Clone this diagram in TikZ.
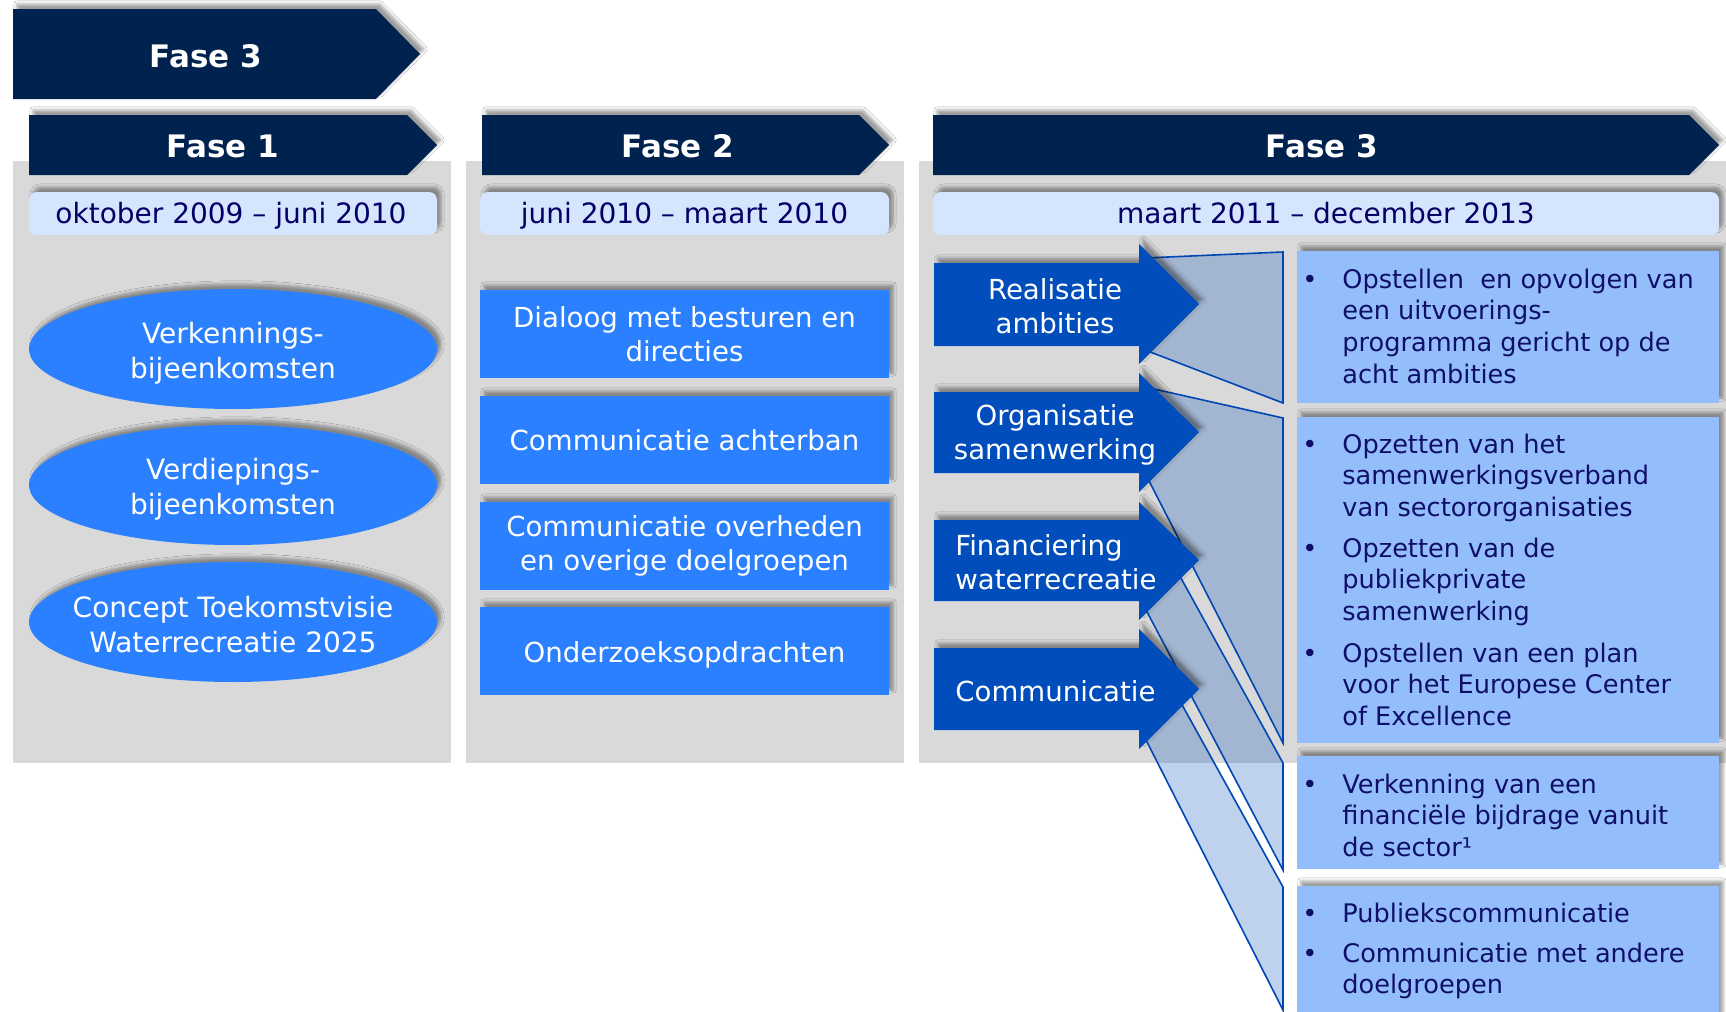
\documentclass[tikz,border=0pt]{standalone}
\usepackage{fontspec}
\setmainfont{DejaVu Sans}
\usetikzlibrary{shadows.blur}
\definecolor{navy}{RGB}{0,34,78}
\definecolor{panelgray}{RGB}{217,217,217}
\definecolor{datebg}{RGB}{213,229,253}
\definecolor{datetext}{RGB}{0,0,102}
\definecolor{midblue}{RGB}{42,128,255}
\definecolor{deepblue}{RGB}{0,77,187}
\definecolor{lightblue}{RGB}{148,190,251}
\definecolor{bullettext}{RGB}{15,15,105}
\definecolor{funnel}{RGB}{3,79,187}
\definecolor{funnelline}{RGB}{0,70,180}
\newcommand{\mylines}[1]{\begin{tabular}[t]{@{}l@{}}#1\end{tabular}}
\begin{document}
\begin{tikzpicture}[x=0.5pt,y=-0.5pt,
  shdw/.style={blur shadow={shadow xshift=2pt,shadow yshift=2.5pt,shadow blur radius=1.6pt,shadow blur steps=6,shadow opacity=38}},
  phase/.style={fill=navy,shdw},
  phasetext/.style={text=white,font=\fontsize{15.5pt}{18pt}\selectfont\bfseries,inner sep=0pt},
  datebox/.style={fill=datebg,rounded corners=4pt,shdw,minimum width=#1,minimum height=21.5pt,inner sep=0pt},
  datetxt/.style={text=datetext,font=\fontsize{14pt}{17pt}\selectfont,inner sep=0pt},
  oval/.style={fill=midblue,shdw},
  ovaltext/.style={text=white,align=center,font=\fontsize{14pt}{17.5pt}\selectfont,inner sep=0pt},
  actbox/.style={fill=midblue,shdw,minimum width=204.5pt,minimum height=44pt,inner sep=0pt,text=white,align=center,font=\fontsize{13.8pt}{17pt}\selectfont},
  goalarrow/.style={fill=deepblue,shdw},
  goaltext/.style={text=white,font=\fontsize{13.8pt}{17pt}\selectfont,inner sep=0pt},
  funnelshape/.style={fill=funnel,fill opacity=0.25,draw=funnelline,line width=0.8pt,line join=miter},
  resbox/.style={fill=lightblue,shdw,minimum width=211pt,inner sep=0pt},
  bul/.style={anchor=base,text=bullettext,font=\fontsize{12.8pt}{15.85pt}\selectfont,inner sep=0pt},
  btxt/.style={anchor=base west,text=bullettext,font=\fontsize{12.8pt}{15.85pt}\selectfont,inner sep=0pt},
]
\useasboundingbox (0,0) rectangle (1726,1012);
\fill[white] (0,0) rectangle (1726,1012);

% panels
\fill[panelgray] (13,161) rectangle (451,763);
\fill[panelgray] (466,161) rectangle (904,763);
\fill[panelgray] (919,161) rectangle (1726,763);

% top phase arrow
\fill[phase] (13,9) -- (376,9) -- (420,54) -- (376,99) -- (13,99) -- cycle;
\node[phasetext] (top) at (206,56) {Fase 3};

% phase headers
\fill[phase] (29,115) -- (407,115) -- (437,145) -- (407,175) -- (29,175) -- cycle;
\node[phasetext] (f1) at (223,146) {Fase 1};
\fill[phase] (482,115) -- (859,115) -- (889,145) -- (859,175) -- (482,175) -- cycle;
\node[phasetext] (f2) at (678,146) {Fase 2};
\fill[phase] (933,115) -- (1689,115) -- (1719,145) -- (1689,175) -- (933,175) -- cycle;
\node[phasetext] (f3) at (1322,146) {Fase 3};

% dates
\node[datebox=204pt] (d1) at (233,213.5) {};
\node[datetxt,anchor=base] (d1t) at (231,223) {oktober 2009 – juni 2010};
\node[datebox=204.5pt] (d2) at (684.5,213.5) {};
\node[datetxt,anchor=base] (d2t) at (684.5,223) {juni 2010 – maart 2010};
\node[datebox=393pt] (d3) at (1326,213.5) {};
\node[datetxt,anchor=base] (d3t) at (1326,223) {maart 2011 – december 2013};

% phase 1 ellipses
\fill[oval] (233,349) ellipse [x radius=204, y radius=60];
\node[ovaltext] (e1) at (233,353) {Verkennings-\\bijeenkomsten};
\fill[oval] (233,485) ellipse [x radius=204, y radius=60];
\node[ovaltext] (e2) at (233,489) {Verdiepings-\\bijeenkomsten};
\fill[oval] (233,622) ellipse [x radius=204, y radius=60];
\node[ovaltext] (e3) at (233,625) {Concept Toekomstvisie\\Waterrecreatie 2025};

% phase 2 boxes
\node[actbox] (a1) at (684.5,334) {Dialoog met besturen en\\directies};
\node[actbox] (a2) at (684.5,440) {Communicatie achterban};
\node[actbox] (a3) at (684.5,546) {Communicatie overheden\\en overige doelgroepen};
\node[actbox] (a4) at (684.5,651) {};
\node[text=white,font=\fontsize{13.8pt}{17pt}\selectfont,inner sep=0pt] (a4t) at (684.5,655) {Onderzoeksopdrachten};

% funnels
\path[funnelshape] (1145,258) -- (1283,252) -- (1283,403) -- (1145,350) -- cycle;
\path[funnelshape] (1145,387) -- (1283,418) -- (1283,743) -- (1145,473) -- cycle;
\path[funnelshape] (1150,522) -- (1283,763) -- (1283,870) -- (1145,608) -- cycle;
\path[funnelshape] (1150,647) -- (1283,887) -- (1283,1010) -- (1145,738) -- cycle;

% phase 3 arrows
\fill[goalarrow] (934,263) -- (1139,263) -- (1139,244) -- (1199,304) -- (1139,364) -- (1139,346) -- (934,346) -- cycle;
\node[goaltext,align=center] (g1) at (1055,306) {Realisatie\\ambities};
\fill[goalarrow] (934,392) -- (1139,392) -- (1139,373) -- (1199,432) -- (1139,492) -- (1139,473) -- (934,473) -- cycle;
\node[goaltext,align=center] (g2) at (1055,435) {Organisatie\\samenwerking};
\fill[goalarrow] (934,520) -- (1139,520) -- (1139,502) -- (1199,560) -- (1139,620) -- (1139,601) -- (934,601) -- cycle;
\node[goaltext,align=left,anchor=west] (g3) at (955,562) {Financiering\\waterrecreatie};
\fill[goalarrow] (934,648) -- (1139,648) -- (1139,629) -- (1199,689) -- (1139,749) -- (1139,730) -- (934,730) -- cycle;
\node[goaltext,anchor=west] (g4) at (955,691) {Communicatie};

% result boxes
\node[resbox,minimum height=76pt] (r1) at (1508,327) {};
\node[resbox,minimum height=163pt] (r2) at (1508,580) {};
\node[resbox,minimum height=56.5pt] (r3) at (1508,812.5) {};
\node[resbox,minimum height=72pt] (r4) at (1508,958) {};

\node[bul] (b11) at (1310,288) {•};
\node[btxt] (t11) at (1342,288) {\mylines{Opstellen\ \ en opvolgen van\\een uitvoerings-\\programma gericht op de\\acht ambities}};

\node[bul] (b21) at (1310,453) {•};
\node[btxt] (t21) at (1342,453) {\mylines{Opzetten van het\\samenwerkingsverband\\van sectororganisaties}};
\node[bul] (b22) at (1310,557) {•};
\node[btxt] (t22) at (1342,557) {\mylines{Opzetten van de\\publiekprivate\\samenwerking}};
\node[bul] (b23) at (1310,662) {•};
\node[btxt] (t23) at (1342,662) {\mylines{Opstellen van een plan\\voor het Europese Center\\of Excellence}};

\node[bul] (b31) at (1310,793) {•};
\node[btxt] (t31) at (1342,793) {\mylines{Verkenning van een\\financiële bijdrage vanuit\\de sector¹}};

\node[bul] (b41) at (1310,922) {•};
\node[btxt] (t41) at (1342,922) {Publiekscommunicatie};
\node[bul] (b42) at (1310,962) {•};
\node[btxt] (t42) at (1342,962) {\mylines{Communicatie met andere\\doelgroepen}};
\end{tikzpicture}
\end{document}
